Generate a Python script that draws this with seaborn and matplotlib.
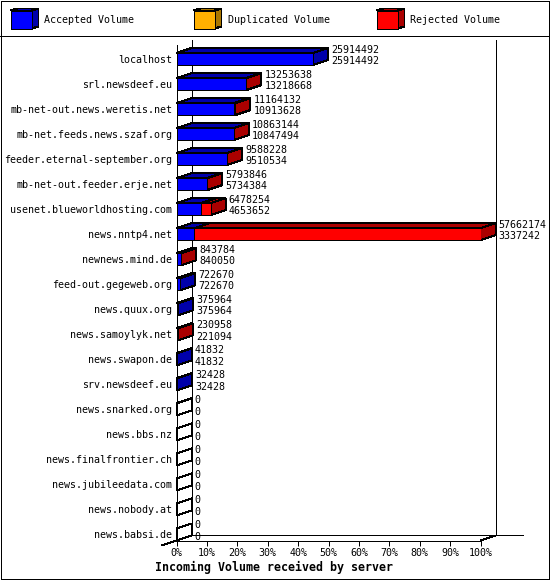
import pandas as pd
import numpy as np
import matplotlib
matplotlib.use("Agg")
import matplotlib.pyplot as plt
from matplotlib.patches import Polygon, Rectangle
import seaborn as sns

servers = ["localhost", "srl.newsdeef.eu", "mb-net-out.news.weretis.net",
           "mb-net.feeds.news.szaf.org", "feeder.eternal-september.org",
           "mb-net-out.feeder.erje.net", "usenet.blueworldhosting.com",
           "news.nntp4.net", "newnews.mind.de", "feed-out.gegeweb.org",
           "news.quux.org", "news.samoylyk.net", "news.swapon.de",
           "srv.newsdeef.eu", "news.snarked.org", "news.bbs.nz",
           "news.finalfrontier.ch", "news.jubileedata.com",
           "news.nobody.at", "news.babsi.de"]
total_volume = [25914492, 13253638, 11164132, 10863144, 9588228, 5793846,
                6478254, 57662174, 843784, 722670, 375964, 230958, 41832,
                32428, 0, 0, 0, 0, 0, 0]
accepted_volume = [25914492, 13218668, 10913628, 10847494, 9510534, 5734384,
                   4653652, 3337242, 840050, 722670, 375964, 221094, 41832,
                   32428, 0, 0, 0, 0, 0, 0]
percent_ticks = [0, 10, 20, 30, 40, 50, 60, 70, 80, 90, 100]
legend_names = ["Accepted Volume", "Duplicated Volume", "Rejected Volume"]

BLUE, BLUE_DARK = "#0000ff", "#0000aa"
ORANGE, ORANGE_DARK = "#ffb000", "#aa7700"
RED, RED_DARK = "#ff0000", "#aa0000"
MONO = "DejaVu Sans Mono"
LW = 0.72  # one pixel at 100 dpi
TXT = 7.2

sns.set_theme(style="white")
plt.rcParams["font.family"] = [MONO]
plt.rcParams["patch.antialiased"] = False
plt.rcParams["lines.antialiased"] = False

df = pd.DataFrame({"server": servers, "total": total_volume, "accepted": accepted_volume})
peak = df["total"].max()
df["total_pct"] = df["total"] / peak * 100
df["accepted_pct"] = df["accepted"] / peak * 100

fig = plt.figure(figsize=(5.5, 5.8), dpi=100, facecolor="white")

# background layer in pixels: frame and legend strip
page = fig.add_axes([0, 0, 1, 1], zorder=0)
page.set_xlim(0, 550)
page.set_ylim(580, 0)
page.axis("off")
page.add_patch(Rectangle((0.5, 0.5), 548.8, 578.8, fill=False, ec="black", lw=LW, clip_on=False))
page.plot([0, 550], [35.5, 35.5], color="black", lw=LW)

legend_x = [10.5, 193.5, 376.5]
legend_cols = [(BLUE, BLUE_DARK), (ORANGE, ORANGE_DARK), (RED, RED_DARK)]
for x, name, (front, dark) in zip(legend_x, legend_names, legend_cols):
    page.add_patch(Polygon([(x, 10.5), (x + 7, 8.5), (x + 28, 8.5), (x + 21, 10.5)],
                           fc=dark, ec="black", lw=LW))
    page.add_patch(Polygon([(x + 21, 10.5), (x + 28, 8.5), (x + 28, 26.5), (x + 21, 28.5)],
                           fc=dark, ec="black", lw=LW))
    page.add_patch(Rectangle((x, 10.5), 21, 18, fc=front, ec="black", lw=LW))
    page.text(x + 34, 20, name, fontsize=TXT, va="center", ha="left", color="black")

# front plane of the chart: 0-100% and rows 25 px apart
ax = fig.add_axes([176.5 / 550, 1 - 540.5 / 580, 304 / 550, 495.5 / 580], zorder=1)
ax.patch.set_alpha(0)

sns.barplot(data=df, y="server", x="total_pct", orient="h", color=RED, saturation=1,
            width=0.48, edgecolor="black", linewidth=LW, ax=ax, zorder=4)
n_red = len(ax.patches)
sns.barplot(data=df, y="server", x="accepted_pct", orient="h", color=BLUE, saturation=1,
            width=0.48, edgecolor="black", linewidth=LW, ax=ax, zorder=5)
red_bars = ax.patches[:n_red]
blue_bars = ax.patches[n_red:]

bottom = 19.24
ax.set_xlim(0, 100)
ax.set_ylim(bottom, -0.56)
depth_x = 15 / 304 * 100
depth_y = 5 / 25


def top_face(bar, color):
    x, y, w = bar.get_x(), bar.get_y(), bar.get_width()
    ax.add_patch(Polygon([(x, y), (x + depth_x, y - depth_y),
                          (x + w + depth_x, y - depth_y), (x + w, y)],
                         fc=color, ec="black", lw=LW, zorder=3, clip_on=False))


def side_face(bar, color):
    x = bar.get_x() + bar.get_width()
    y, h = bar.get_y(), bar.get_height()
    ax.add_patch(Polygon([(x, y), (x + depth_x, y - depth_y),
                          (x + depth_x, y + h - depth_y), (x, y + h)],
                         fc=color, ec="black", lw=LW, zorder=3, clip_on=False))


# walls and floor behind the bars
wall_top = -0.76
line = dict(color="black", lw=LW, clip_on=False, zorder=1)
ax.plot([depth_x, depth_x], [wall_top, bottom - depth_y], **line)
ax.plot([100 + depth_x, 100 + depth_x], [wall_top, bottom - depth_y], **line)
ax.plot([depth_x, 113.9], [bottom - depth_y, bottom - depth_y], **line)
ax.plot([-depth_x, depth_x], [bottom + depth_y, bottom - depth_y], **line)
ax.plot([100, 100 + depth_x], [bottom, bottom - depth_y], **line)

for i, row in df.iterrows():
    red, blue = red_bars[i], blue_bars[i]
    if row["total"] > row["accepted"]:
        top_face(red, RED_DARK)
        side_face(red, RED_DARK)
    elif row["total"] > 0:
        side_face(blue, BLUE_DARK)
    else:
        side_face(blue, "none")
    if row["accepted"] > 0:
        top_face(blue, BLUE_DARK)

    end = row["total_pct"] + depth_x
    ax.annotate(str(row["total"]), (end, i), xytext=(2.3, 6.5), textcoords="offset points",
                fontsize=TXT, va="center", ha="left", color="black", annotation_clip=False, zorder=6)
    ax.annotate(str(row["accepted"]), (end, i), xytext=(2.3, -1.6), textcoords="offset points",
                fontsize=TXT, va="center", ha="left", color="black", annotation_clip=False, zorder=6)

ax.set_xticks(percent_ticks)
ax.set_xticklabels([f"{p}%" for p in percent_ticks], fontsize=TXT, color="black")
ax.tick_params(axis="x", length=3.6, width=LW, color="black", pad=2, bottom=True)
ax.tick_params(axis="y", length=0, pad=3, labelsize=TXT, labelcolor="black")
ax.set_ylabel("")
ax.set_xlabel("Incoming Volume received by server", fontsize=8.4, fontweight="bold",
              color="black", x=0.32, labelpad=2)

for side in ["top", "right"]:
    ax.spines[side].set_visible(False)
for side in ["left", "bottom"]:
    ax.spines[side].set_color("black")
    ax.spines[side].set_linewidth(LW)

fig.savefig("out.png", dpi=100)
